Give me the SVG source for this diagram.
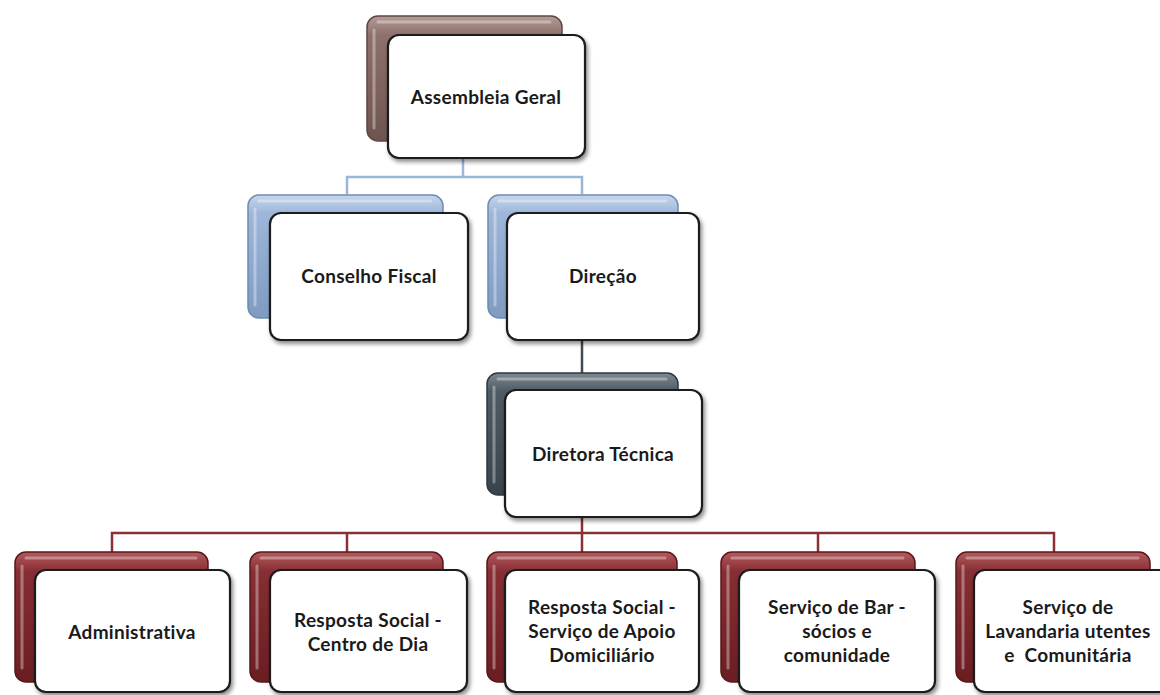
<svg xmlns="http://www.w3.org/2000/svg" width="1160" height="695" viewBox="0 0 1160 695">
<style>
.front{fill:#ffffff;stroke:#1a1a1a;stroke-width:2.2;filter:url(#sh)}
.back{stroke-width:1.5}
.hl{fill:none;stroke:#ffffff;stroke-opacity:0.35;stroke-width:3;stroke-linecap:round}
.t{font-family:Lato,"Open Sans","Liberation Sans",sans-serif;font-weight:bold;font-size:19px;letter-spacing:0.3px;fill:#1a1a1a;text-anchor:middle}
.c{fill:none;stroke-width:2.5}
</style>
<defs>
<filter id="sh" x="-10%" y="-10%" width="125%" height="130%">
<feDropShadow dx="2" dy="3" stdDeviation="2" flood-color="#000" flood-opacity="0.45"/>
</filter>
<linearGradient id="gBrown" x1="0" y1="0" x2="0" y2="1">
<stop offset="0" stop-color="#b59c98"/><stop offset="0.15" stop-color="#8e706c"/><stop offset="1" stop-color="#6e5450"/>
</linearGradient>
<linearGradient id="gBlue" x1="0" y1="0" x2="0" y2="1">
<stop offset="0" stop-color="#c6d6ec"/><stop offset="0.15" stop-color="#9db6d9"/><stop offset="1" stop-color="#7f9bc2"/>
</linearGradient>
<linearGradient id="gSlate" x1="0" y1="0" x2="0" y2="1">
<stop offset="0" stop-color="#7d8890"/><stop offset="0.15" stop-color="#4f5b64"/><stop offset="1" stop-color="#38434b"/>
</linearGradient>
<linearGradient id="gRed" x1="0" y1="0" x2="0" y2="1">
<stop offset="0" stop-color="#b45a5e"/><stop offset="0.15" stop-color="#862e33"/><stop offset="1" stop-color="#6a1e22"/>
</linearGradient>
</defs>

<g id="connectors">
<path class="c" stroke="#9ab6d8" d="M463 158V177M347 194V177H582V194"/>
<path class="c" stroke="#3f4b53" d="M582 340V373"/>
<path class="c" stroke="#8a3034" d="M582 517V533M112 552V533H1054V552M347 533V552M582 533V552M818 533V552"/>
</g>

<g id="assembleia">
<rect class="back" x="367" y="16" width="195" height="125" rx="11" fill="url(#gBrown)" stroke="#5e4744"/>
<path class="hl" d="M374 30V128M378 22H550"/>
<rect class="front" x="388" y="35" width="197" height="123" rx="11"/>
<text class="t" x="486" y="104">Assembleia Geral</text>
</g>

<g id="conselho">
<rect class="back" x="248" y="195" width="195" height="123" rx="11" fill="url(#gBlue)" stroke="#6f8bb2"/>
<path class="hl" d="M255 209V305M259 201H431"/>
<rect class="front" x="270" y="213" width="198" height="127" rx="11"/>
<text class="t" x="369" y="283">Conselho Fiscal</text>
</g>

<g id="direcao">
<rect class="back" x="488" y="195" width="190" height="123" rx="11" fill="url(#gBlue)" stroke="#6f8bb2"/>
<path class="hl" d="M495 209V305M499 201H666"/>
<rect class="front" x="507" y="213" width="192" height="127" rx="11"/>
<text class="t" x="603" y="283">Direção</text>
</g>

<g id="diretora">
<rect class="back" x="487" y="373" width="191" height="122" rx="11" fill="url(#gSlate)" stroke="#2f383f"/>
<path class="hl" d="M494 387V482M498 379H666"/>
<rect class="front" x="505" y="390" width="197" height="127" rx="11"/>
<text class="t" x="603" y="461">Diretora Técnica</text>
</g>

<g id="administrativa">
<rect class="back" x="15" y="552" width="193" height="130" rx="11" fill="url(#gRed)" stroke="#5a171b"/>
<path class="hl" d="M22 566V668M26 558H196"/>
<rect class="front" x="35" y="570" width="195" height="122" rx="11"/>
<text class="t" x="132" y="639">Administrativa</text>
</g>

<g id="centro-dia">
<rect class="back" x="250" y="552" width="193" height="130" rx="11" fill="url(#gRed)" stroke="#5a171b"/>
<path class="hl" d="M257 566V668M261 558H431"/>
<rect class="front" x="270" y="570" width="197" height="122" rx="11"/>
<text class="t" x="368" y="627">Resposta Social -</text>
<text class="t" x="368" y="651">Centro de Dia</text>
</g>

<g id="apoio-domiciliario">
<rect class="back" x="487" y="552" width="190" height="130" rx="11" fill="url(#gRed)" stroke="#5a171b"/>
<path class="hl" d="M494 566V668M498 558H665"/>
<rect class="front" x="505" y="570" width="194" height="122" rx="11"/>
<text class="t" x="602" y="614">Resposta Social -</text>
<text class="t" x="602" y="638">Serviço de Apoio</text>
<text class="t" x="602" y="662">Domiciliário</text>
</g>

<g id="bar">
<rect class="back" x="721" y="552" width="194" height="130" rx="11" fill="url(#gRed)" stroke="#5a171b"/>
<path class="hl" d="M728 566V668M732 558H903"/>
<rect class="front" x="739" y="570" width="196" height="122" rx="11"/>
<text class="t" x="837" y="614">Serviço de Bar -</text>
<text class="t" x="837" y="638">sócios e</text>
<text class="t" x="837" y="662">comunidade</text>
</g>

<g id="lavandaria">
<rect class="back" x="956" y="552" width="194" height="130" rx="11" fill="url(#gRed)" stroke="#5a171b"/>
<path class="hl" d="M963 566V668M967 558H1138"/>
<rect class="front" x="974" y="570" width="196" height="122" rx="11"/>
<text class="t" x="1068" y="614">Serviço de</text>
<text class="t" x="1068" y="638">Lavandaria utentes</text>
<text class="t" x="1068" y="662" style="white-space:pre">e  Comunitária</text>
</g>
</svg>
